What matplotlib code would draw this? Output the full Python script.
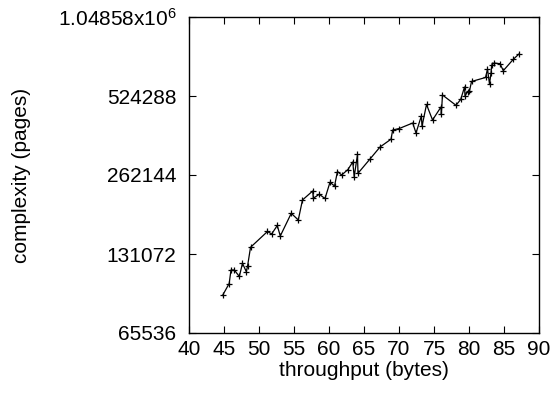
import matplotlib
matplotlib.use("Agg")
import matplotlib.pyplot as plt
from matplotlib.ticker import FixedLocator, FixedFormatter, NullLocator

plt.rcParams["font.family"] = ["Liberation Sans", "DejaVu Sans"]
plt.rcParams["mathtext.fontset"] = "custom"
plt.rcParams["mathtext.rm"] = "Liberation Sans"
plt.rcParams["mathtext.it"] = "Liberation Sans"

# data
throughput = [44.79, 45.74, 46.0, 46.47, 47.19, 47.64, 48.19, 48.36, 48.79, 51.21,
              51.81, 52.61, 53.04, 54.61, 55.61, 56.21, 57.67, 57.76, 58.6, 59.43,
              60.14, 60.79, 61.21, 61.81, 62.71, 63.39, 63.6, 64.07, 64.14, 65.86,
              67.29, 68.86, 69.1, 70.04, 71.96, 72.43, 73.19, 73.29, 73.93, 74.79,
              76.0, 76.05, 76.21, 78.14, 78.81, 79.36, 79.43, 79.79, 80.07, 80.36,
              82.36, 82.64, 82.93, 83.14, 83.24, 83.57, 84.43, 84.9, 86.33, 87.14]
complexity = [91076, 101180, 113908, 113908, 107602, 120795, 112210, 117656, 139000, 159680,
              156218, 168316, 153503, 187333, 176632, 210515, 227823, 213694, 221335, 213314,
              245898, 238054, 270315, 262144, 275093, 293868, 258265, 313845, 266090, 301688,
              335151, 358902, 389040, 394192, 413709, 378928, 439938, 401947, 486637, 424749,
              476100, 445763, 528915, 483234, 508447, 567305, 524288, 544447, 547818, 595432,
              616742, 662757, 582530, 639862, 688187, 700371, 696117, 654695, 723520, 757930]

x_ticks = [40, 45, 50, 55, 60, 65, 70, 75, 80, 85, 90]
y_ticks = [65536, 131072, 262144, 524288, 1048576]
y_labels = ["65536", "131072", "262144", "524288", r"1.04858x10$^{6}$"]

fig = plt.figure(figsize=(5.57, 3.96), dpi=100)
ax = fig.add_axes([189 / 557, 63 / 396, 350 / 557, 316 / 396])

ax.plot(throughput, complexity, color="black", lw=0.9, marker="+",
        markersize=5, markeredgewidth=0.9)

ax.set_yscale("log", base=2)
ax.set_xlim(40, 90)
ax.set_ylim(65536, 1048576)
ax.xaxis.set_major_locator(FixedLocator(x_ticks))
ax.yaxis.set_major_locator(FixedLocator(y_ticks))
ax.yaxis.set_major_formatter(FixedFormatter(y_labels))
ax.yaxis.set_minor_locator(NullLocator())

ax.tick_params(direction="in", length=5, width=0.8, top=True, right=True,
               labelsize=15, colors="black")
ax.tick_params(axis="y", pad=9)
ax.tick_params(axis="x", pad=5)
for s in ax.spines.values():
    s.set_linewidth(1.0)

ax.set_xlabel("throughput (bytes)", fontsize=15)
ax.set_ylabel("complexity (pages)", fontsize=15)
ax.xaxis.set_label_coords(0.5, -0.088)
ax.yaxis.set_label_coords(-0.452, 0.5)

fig.savefig("out.png", dpi=100)
